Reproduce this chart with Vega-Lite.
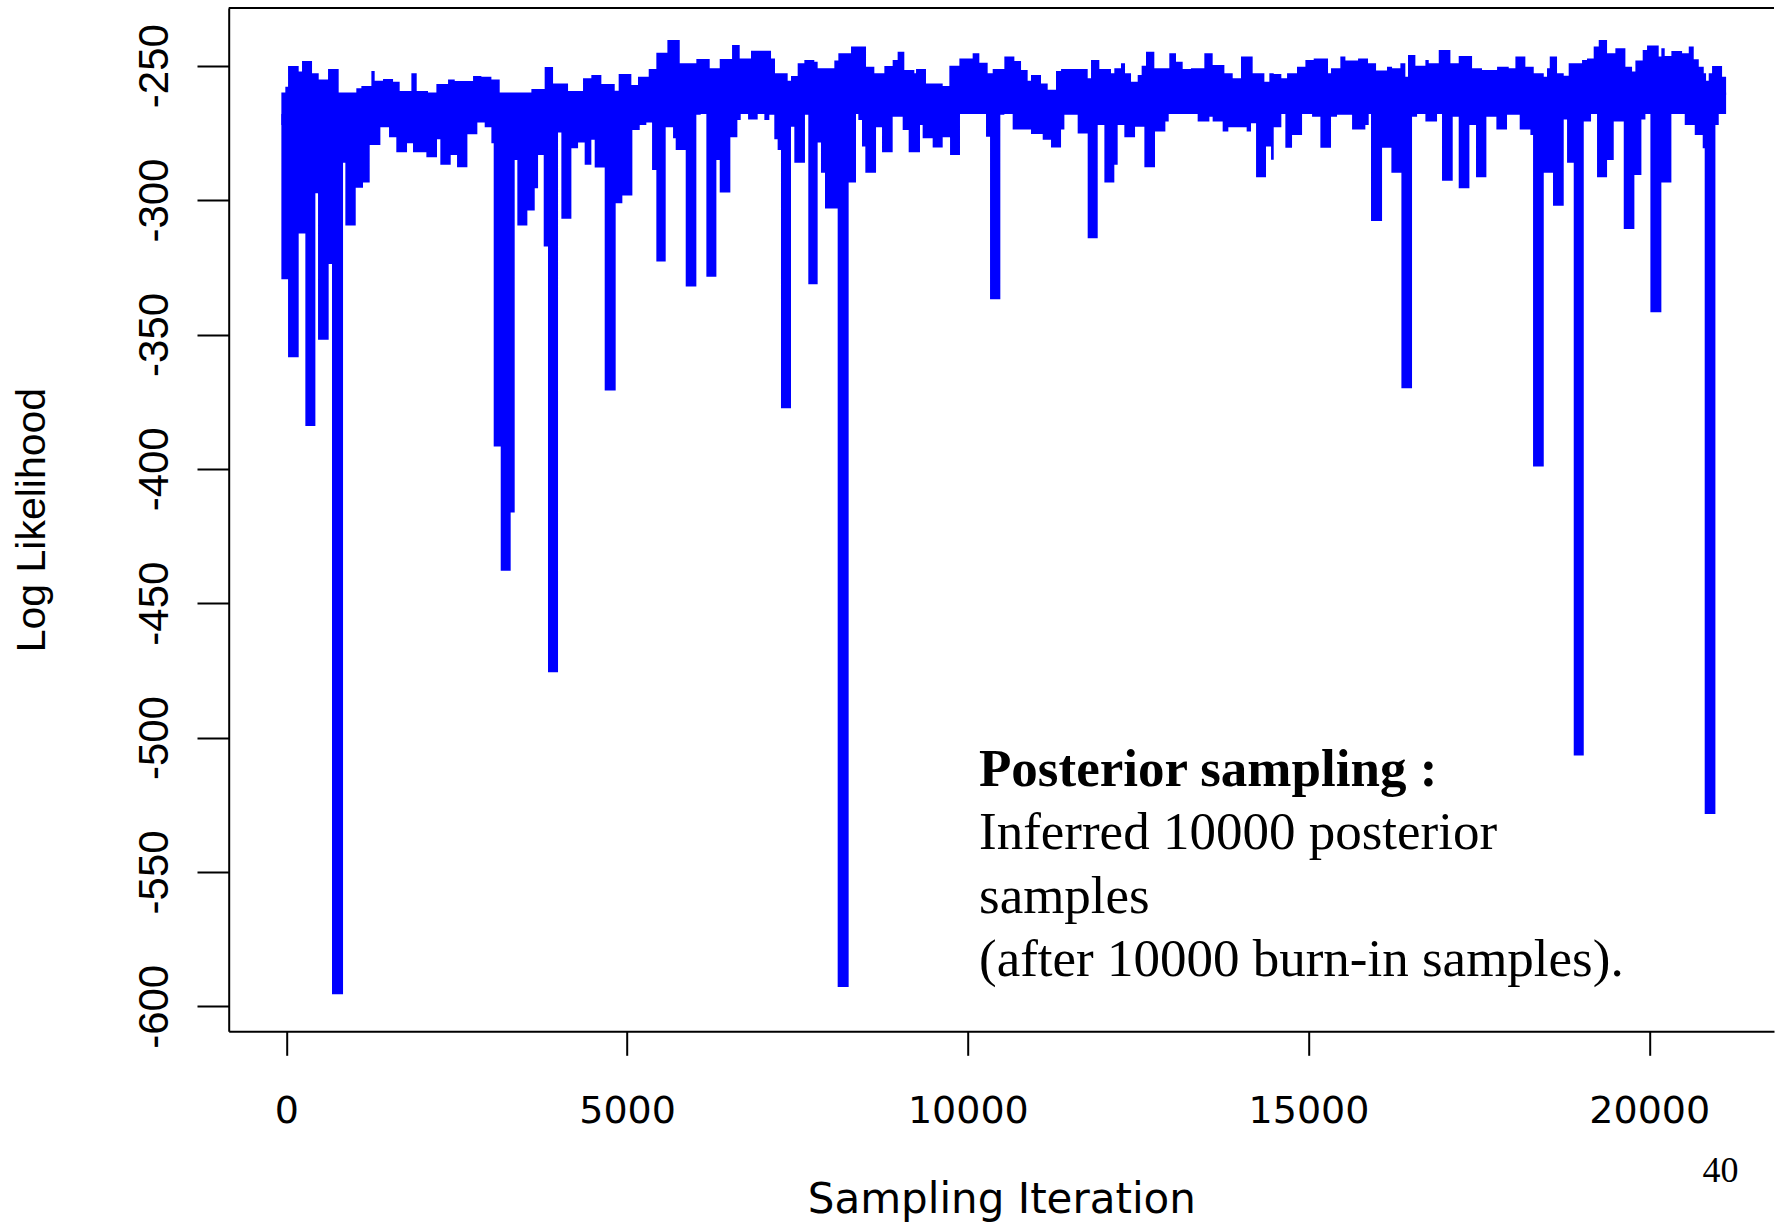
{
"$schema": "https://vega.github.io/schema/vega-lite/v6.json",
"width": 1545.3,
"height": 1023.4,
"autosize": {"type": "none"},
"padding": {"left": 228.7, "top": 7.9, "right": 1, "bottom": 190.7},
"background": "white",
"config": {"view": {"stroke": null}, "axis": {"grid": false, "domainColor": "black", "domainWidth": 2, "tickColor": "black", "tickWidth": 2, "labelColor": "black", "titleColor": "black", "titleFontWeight": "normal", "labelOverlap": false, "labelFlush": false, "labelBound": false}},
"datasets": {
"upper": [
{"iter":-74,"ll":-272.1},{"iter":-16,"ll":-257.8},{"iter":24,"ll":-250.1},{"iter":180,"ll":-252.2},{"iter":229,"ll":-248.3},{"iter":376,"ll":-252.8},{"iter":474,"ll":-255.1},{"iter":611,"ll":-251.2},{"iter":767,"ll":-260.5},{"iter":1026,"ll":-258.4},{"iter":1100,"ll":-257.6},{"iter":1247,"ll":-252.0},{"iter":1295,"ll":-255.6},{"iter":1418,"ll":-255.0},{"iter":1565,"ll":-256.0},{"iter":1662,"ll":-259.4},{"iter":1834,"ll":-252.8},{"iter":1912,"ll":-259.4},{"iter":2078,"ll":-262.8},{"iter":2201,"ll":-256.8},{"iter":2372,"ll":-255.1},{"iter":2470,"ll":-255.7},{"iter":2739,"ll":-253.8},{"iter":2861,"ll":-254.1},{"iter":3008,"ll":-255.1},{"iter":3130,"ll":-262.1},{"iter":3301,"ll":-265.2},{"iter":3399,"ll":-262.1},{"iter":3595,"ll":-258.7},{"iter":3790,"ll":-250.5},{"iter":3913,"ll":-256.6},{"iter":4133,"ll":-259.4},{"iter":4353,"ll":-254.7},{"iter":4475,"ll":-253.5},{"iter":4622,"ll":-256.8},{"iter":4818,"ll":-259.3},{"iter":4876,"ll":-253.1},{"iter":5062,"ll":-257.2},{"iter":5160,"ll":-254.1},{"iter":5317,"ll":-251.2},{"iter":5429,"ll":-245.2},{"iter":5591,"ll":-240.4},{"iter":5772,"ll":-249.1},{"iter":6016,"ll":-247.5},{"iter":6212,"ll":-251.0},{"iter":6359,"ll":-247.5},{"iter":6540,"ll":-242.3},{"iter":6652,"ll":-247.3},
{"iter":6818,"ll":-244.4},{"iter":7112,"ll":-247.3},{"iter":7170,"ll":-252.8},{"iter":7356,"ll":-255.6},{"iter":7405,"ll":-253.8},{"iter":7503,"ll":-249.1},{"iter":7601,"ll":-247.9},{"iter":7747,"ll":-248.5},{"iter":7796,"ll":-251.0},{"iter":8041,"ll":-248.1},{"iter":8100,"ll":-245.4},{"iter":8286,"ll":-242.9},{"iter":8506,"ll":-250.4},{"iter":8628,"ll":-252.8},{"iter":8775,"ll":-250.1},{"iter":8897,"ll":-247.9},{"iter":8970,"ll":-244.8},{"iter":9068,"ll":-251.6},{"iter":9215,"ll":-252.8},{"iter":9240,"ll":-251.2},{"iter":9386,"ll":-256.6},{"iter":9631,"ll":-257.6},{"iter":9729,"ll":-250.0},{"iter":9876,"ll":-247.3},{"iter":10071,"ll":-245.4},{"iter":10169,"ll":-248.9},{"iter":10291,"ll":-252.8},{"iter":10365,"ll":-251.2},{"iter":10536,"ll":-246.6},{"iter":10683,"ll":-248.3},{"iter":10781,"ll":-251.6},{"iter":10878,"ll":-255.6},{"iter":10927,"ll":-253.5},{"iter":11074,"ll":-256.6},{"iter":11172,"ll":-259.0},{"iter":11294,"ll":-252.0},{"iter":11368,"ll":-251.2},{"iter":11759,"ll":-254.7},{"iter":11808,"ll":-247.9},{"iter":11930,"ll":-251.2},{"iter":12101,"ll":-252.8},{"iter":12150,"ll":-251.0},{"iter":12248,"ll":-249.1},{"iter":12307,"ll":-252.8},{"iter":12395,"ll":-256.0},{"iter":12493,"ll":-253.5},{"iter":12551,"ll":-250.0},{"iter":12615,"ll":-244.8},{"iter":12737,"ll":-251.0},{"iter":12957,"ll":-245.4},{"iter":13055,"ll":-248.5},{"iter":13153,"ll":-251.2},{"iter":13275,"ll":-251.0},{"iter":13471,"ll":-245.4},{"iter":13593,"ll":-249.7},{"iter":13765,"ll":-252.8},{"iter":13887,"ll":-254.7},{"iter":14009,"ll":-246.6},{"iter":14180,"ll":-252.8},{"iter":14352,"ll":-256.0},{"iter":14425,"ll":-252.8},
{"iter":14489,"ll":-253.1},{"iter":14601,"ll":-254.7},{"iter":14685,"ll":-252.8},{"iter":14831,"ll":-250.4},{"iter":14954,"ll":-247.9},{"iter":15076,"ll":-247.3},{"iter":15286,"ll":-252.8},{"iter":15330,"ll":-251.0},{"iter":15467,"ll":-246.6},{"iter":15541,"ll":-248.1},{"iter":15727,"ll":-247.3},{"iter":15873,"ll":-249.1},{"iter":15991,"ll":-251.8},{"iter":16152,"ll":-250.4},{"iter":16226,"ll":-251.0},{"iter":16348,"ll":-249.1},{"iter":16421,"ll":-254.1},{"iter":16460,"ll":-246.0},{"iter":16568,"ll":-250.0},{"iter":16715,"ll":-247.9},{"iter":16764,"ll":-249.1},{"iter":16911,"ll":-244.2},{"iter":17082,"ll":-249.1},{"iter":17204,"ll":-246.4},{"iter":17400,"ll":-251.0},{"iter":17546,"ll":-251.6},{"iter":17767,"ll":-250.4},{"iter":17938,"ll":-251.0},{"iter":18036,"ll":-246.6},{"iter":18182,"ll":-250.4},{"iter":18305,"ll":-252.8},{"iter":18452,"ll":-254.1},{"iter":18500,"ll":-251.0},{"iter":18540,"ll":-246.6},{"iter":18647,"ll":-252.8},{"iter":18745,"ll":-253.7},{"iter":18818,"ll":-249.1},{"iter":19014,"ll":-247.9},{"iter":19087,"ll":-247.3},{"iter":19185,"ll":-242.9},{"iter":19259,"ll":-240.4},{"iter":19381,"ll":-245.4},{"iter":19503,"ll":-243.5},{"iter":19650,"ll":-250.4},{"iter":19748,"ll":-252.2},{"iter":19797,"ll":-248.1},{"iter":19904,"ll":-244.2},{"iter":19968,"ll":-242.5},{"iter":20139,"ll":-246.6},{"iter":20178,"ll":-243.5},{"iter":20227,"ll":-246.4},{"iter":20325,"ll":-244.5},{"iter":20482,"ll":-245.4},{"iter":20580,"ll":-242.9},{"iter":20653,"ll":-247.6},{"iter":20727,"ll":-250.4},{"iter":20800,"ll":-252.8},{"iter":20834,"ll":-255.6},{"iter":20873,"ll":-252.8},{"iter":20922,"ll":-250.1},{"iter":21069,"ll":-254.1},{"iter":21128,"ll":-254.1}
],
"lower": [
{"iter":-74,"ll":-329.5},{"iter":24,"ll":-358.5},{"iter":180,"ll":-312.4},{"iter":278,"ll":-384.1},{"iter":425,"ll":-297.5},{"iter":464,"ll":-352.0},{"iter":620,"ll":-323.8},{"iter":669,"ll":-595.5},{"iter":831,"ll":-286.1},{"iter":865,"ll":-309.5},{"iter":1017,"ll":-295.4},{"iter":1124,"ll":-293.5},{"iter":1222,"ll":-279.5},{"iter":1379,"ll":-272.9},{"iter":1506,"ll":-276.6},{"iter":1613,"ll":-282.2},{"iter":1770,"ll":-278.9},{"iter":1858,"ll":-282.2},{"iter":2054,"ll":-284.1},{"iter":2210,"ll":-277.4},{"iter":2259,"ll":-286.9},{"iter":2411,"ll":-283.2},{"iter":2504,"ll":-287.8},{"iter":2656,"ll":-275.5},{"iter":2802,"ll":-271.1},{"iter":2910,"ll":-272.9},{"iter":3008,"ll":-278.9},{"iter":3042,"ll":-391.7},{"iter":3145,"ll":-437.9},{"iter":3291,"ll":-416.3},{"iter":3350,"ll":-285.1},{"iter":3389,"ll":-309.5},{"iter":3536,"ll":-303.9},{"iter":3644,"ll":-295.6},{"iter":3693,"ll":-283.2},{"iter":3776,"ll":-317.3},{"iter":3839,"ll":-475.7},{"iter":3986,"ll":-274.9},{"iter":4035,"ll":-307.0},{"iter":4182,"ll":-280.7},{"iter":4280,"ll":-278.6},{"iter":4377,"ll":-286.9},{"iter":4475,"ll":-277.6},{"iter":4524,"ll":-287.9},{"iter":4671,"ll":-370.9},{"iter":4832,"ll":-301.2},{"iter":4930,"ll":-298.3},{"iter":5077,"ll":-273.9},{"iter":5185,"ll":-272.1},{"iter":5282,"ll":-271.1},{"iter":5366,"ll":-288.8},{"iter":5429,"ll":-322.9},{"iter":5566,"ll":-272.9},{"iter":5674,"ll":-277.0},{"iter":5713,"ll":-281.4},{"iter":5860,"ll":-332.2},{"iter":6016,"ll":-268.3},{"iter":6080,"ll":-267.1},{"iter":6163,"ll":-328.5},{"iter":6310,"ll":-285.1},{"iter":6359,"ll":-297.2},{"iter":6515,"ll":-276.6},{"iter":6618,"ll":-270.2},{"iter":6667,"ll":-262.8},{"iter":6701,"ll":-267.1},{"iter":6775,"ll":-270.0},
{"iter":6818,"ll":-270.0},{"iter":6916,"ll":-265.2},{"iter":7014,"ll":-270.2},{"iter":7087,"ll":-268.3},{"iter":7160,"ll":-277.4},{"iter":7209,"ll":-281.4},{"iter":7258,"ll":-377.5},{"iter":7405,"ll":-272.7},{"iter":7454,"ll":-286.1},{"iter":7610,"ll":-268.3},{"iter":7659,"ll":-331.3},{"iter":7796,"ll":-278.6},{"iter":7845,"ll":-289.8},{"iter":7904,"ll":-303.1},{"iter":8090,"ll":-592.8},{"iter":8251,"ll":-293.5},{"iter":8359,"ll":-267.1},{"iter":8393,"ll":-270.2},{"iter":8447,"ll":-280.1},{"iter":8496,"ll":-289.8},{"iter":8653,"ll":-272.9},{"iter":8741,"ll":-282.2},{"iter":8897,"ll":-269.0},{"iter":9044,"ll":-273.9},{"iter":9132,"ll":-282.2},{"iter":9298,"ll":-272.1},{"iter":9337,"ll":-277.0},{"iter":9484,"ll":-280.4},{"iter":9631,"ll":-276.6},{"iter":9739,"ll":-283.2},{"iter":9885,"ll":-266.7},{"iter":10047,"ll":-264.6},{"iter":10145,"ll":-266.5},{"iter":10267,"ll":-276.4},{"iter":10326,"ll":-336.9},{"iter":10477,"ll":-268.3},{"iter":10536,"ll":-267.1},{"iter":10658,"ll":-273.7},{"iter":10927,"ll":-275.4},{"iter":11099,"ll":-277.6},{"iter":11221,"ll":-280.4},{"iter":11368,"ll":-273.7},{"iter":11417,"ll":-268.3},{"iter":11612,"ll":-275.2},{"iter":11759,"ll":-314.2},{"iter":11906,"ll":-272.1},{"iter":12004,"ll":-293.5},{"iter":12150,"ll":-286.9},{"iter":12199,"ll":-272.1},{"iter":12297,"ll":-276.6},{"iter":12454,"ll":-272.7},{"iter":12591,"ll":-287.8},{"iter":12747,"ll":-274.5},{"iter":12899,"ll":-270.8},{"iter":12948,"ll":-266.5},{"iter":13373,"ll":-270.8},{"iter":13545,"ll":-269.0},{"iter":13593,"ll":-270.8},{"iter":13740,"ll":-274.5},{"iter":13823,"ll":-272.9},{"iter":14092,"ll":-274.5},{"iter":14156,"ll":-271.4},{"iter":14230,"ll":-291.5},{"iter":14376,"ll":-280.1},{"iter":14450,"ll":-285.0},
{"iter":14489,"ll":-272.9},{"iter":14601,"ll":-267.1},{"iter":14660,"ll":-280.5},{"iter":14758,"ll":-275.8},{"iter":14905,"ll":-267.1},{"iter":15052,"ll":-269.0},{"iter":15174,"ll":-280.5},{"iter":15330,"ll":-269.0},{"iter":15418,"ll":-268.3},{"iter":15639,"ll":-273.7},{"iter":15834,"ll":-272.1},{"iter":15883,"ll":-265.2},{"iter":15917,"ll":-307.8},{"iter":16079,"ll":-280.5},{"iter":16216,"ll":-289.8},{"iter":16363,"ll":-370.0},{"iter":16519,"ll":-269.0},{"iter":16593,"ll":-266.5},{"iter":16715,"ll":-270.8},{"iter":16886,"ll":-266.5},{"iter":16959,"ll":-292.8},{"iter":17116,"ll":-269.0},{"iter":17204,"ll":-295.6},{"iter":17361,"ll":-272.1},{"iter":17458,"ll":-291.5},{"iter":17610,"ll":-269.0},{"iter":17757,"ll":-273.7},{"iter":17913,"ll":-268.3},{"iter":18099,"ll":-273.7},{"iter":18256,"ll":-275.8},{"iter":18295,"ll":-399.1},{"iter":18452,"ll":-289.8},{"iter":18588,"ll":-302.1},{"iter":18745,"ll":-270.0},{"iter":18794,"ll":-286.1},{"iter":18892,"ll":-506.7},{"iter":19039,"ll":-270.8},{"iter":19146,"ll":-266.5},{"iter":19234,"ll":-291.5},{"iter":19381,"ll":-285.1},{"iter":19479,"ll":-270.8},{"iter":19626,"ll":-310.8},{"iter":19782,"ll":-290.7},{"iter":19885,"ll":-270.0},{"iter":19944,"ll":-264.6},{"iter":20017,"ll":-341.7},{"iter":20178,"ll":-293.5},{"iter":20325,"ll":-265.2},{"iter":20408,"ll":-260.0},{"iter":20458,"ll":-265.2},{"iter":20521,"ll":-272.1},{"iter":20668,"ll":-275.8},{"iter":20785,"ll":-280.7},{"iter":20814,"ll":-528.4},{"iter":20971,"ll":-272.1},{"iter":21020,"ll":-264.6},{"iter":21069,"ll":-260.9},{"iter":21128,"ll":-260.9}
]
},
"layer": [
{"data": {"name": "upper"},
 "mark": {"type": "area", "interpolate": "step-after", "color": "#0000ff", "opacity": 1},
 "encoding": {
  "x": {"field": "iter", "type": "quantitative", "title": "Sampling Iteration",
        "scale": {"domain": [-847, 21831], "nice": false, "zero": false},
        "axis": {"values": [0, 5000, 10000, 15000, 20000], "format": "d", "tickSize": 24, "labelPadding": 36.7, "labelFont": "DejaVu Sans", "labelFontSize": 38, "titleFont": "DejaVu Sans", "titleFontSize": 42, "titleY": 180.7, "titleBaseline": "alphabetic"}},
  "y": {"field": "ll", "type": "quantitative", "title": "Log Likelihood",
        "scale": {"domain": [-609.3, -228.5], "nice": false, "zero": false},
        "axis": {"values": [-600, -550, -500, -450, -400, -350, -300, -250], "labelExpr": "datum.value + ''", "tickSize": 31.7, "labelPadding": 30, "labelAngle": 270, "labelAlign": "center", "labelBaseline": "alphabetic", "labelFont": "Liberation Sans", "labelFontSize": 42, "titleFont": "Liberation Sans", "titleFontSize": 41, "titleAngle": 270, "titleX": -184.7, "titleY": 511.7, "titleAlign": "center", "titleBaseline": "alphabetic"}},
  "y2": {"datum": -268}
 }},
{"data": {"name": "lower"},
 "mark": {"type": "area", "interpolate": "step-after", "color": "#0000ff", "opacity": 1},
 "encoding": {
  "x": {"field": "iter", "type": "quantitative", "title": "Sampling Iteration"},
  "y": {"field": "ll", "type": "quantitative", "title": "Log Likelihood"},
  "y2": {"datum": -260}
 }},
{"data": {"values": [{"edge": "top"}]},
 "mark": {"type": "rule", "color": "black", "strokeWidth": 2},
 "encoding": {"y": {"datum": -228.5}}},
{"data": {"values": [{"t": "Posterior sampling :"}]},
 "mark": {"type": "text", "font": "Liberation Serif", "fontSize": 53, "fontWeight": "bold", "align": "left", "baseline": "alphabetic", "color": "black"},
 "encoding": {"x": {"datum": 10164}, "y": {"datum": -518.0}, "text": {"field": "t"}}},
{"data": {"values": [{"t": "note"}]},
 "mark": {"type": "text", "font": "Liberation Serif", "fontSize": 53, "align": "left", "baseline": "alphabetic", "lineHeight": 63.7, "color": "black"},
 "encoding": {"x": {"datum": 10164}, "y": {"datum": -541.4}, "text": {"value": ["Inferred 10000 posterior", "samples", "(after 10000 burn-in samples)."]}}},
{"data": {"values": [{"t": "40"}]},
 "mark": {"type": "text", "font": "Liberation Serif", "fontSize": 36, "align": "center", "baseline": "alphabetic", "color": "black"},
 "encoding": {"x": {"datum": 21046}, "y": {"datum": -665.3}, "text": {"field": "t"}}}
]
}
